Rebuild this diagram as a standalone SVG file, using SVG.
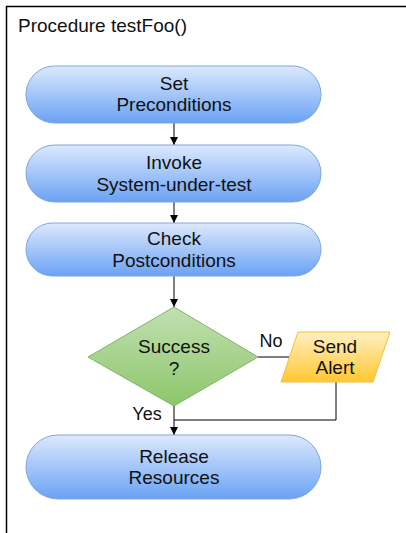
<svg xmlns="http://www.w3.org/2000/svg" width="406" height="533" viewBox="0 0 406 533">
<style>
text{font-family:"Liberation Sans",Arial,sans-serif;fill:#111;text-anchor:middle}
.t{font-size:19px}
.l{font-size:18px}
.term{fill:url(#gb);stroke:#7ea6e0;stroke-width:1}
.edge{fill:none;stroke:#000;stroke-width:1}
</style>
<defs>
<linearGradient id="gb" x1="0" y1="0" x2="0" y2="1"><stop offset="0" stop-color="#dde9fd"/><stop offset="1" stop-color="#6aa2f4"/></linearGradient>
<linearGradient id="gg" x1="0" y1="0" x2="0" y2="1"><stop offset="0" stop-color="#c2e0b2"/><stop offset="1" stop-color="#8cc66a"/></linearGradient>
<linearGradient id="gy" x1="0" y1="0" x2="0" y2="1"><stop offset="0" stop-color="#fff0c2"/><stop offset="1" stop-color="#ffc832"/></linearGradient>
<marker id="ah" markerWidth="8" markerHeight="8" refX="8" refY="4" orient="auto" markerUnits="userSpaceOnUse"><path d="M0,0 L8,4 L0,8 z" fill="#000"/></marker>
</defs>
<g id="frame"><path d="M6.5,533 V6.5 H406" fill="none" stroke="#000" stroke-width="1.5"/><text x="18" y="32" style="font-size:19px;text-anchor:start">Procedure testFoo()</text></g>
<g id="edges">
<path class="edge" d="M174,123 V145" marker-end="url(#ah)"/>
<path class="edge" d="M174,202 V223" marker-end="url(#ah)"/>
<path class="edge" d="M174,276 V307" marker-end="url(#ah)"/>
<path class="edge" d="M174,406 V435" marker-end="url(#ah)"/>
<path class="edge" d="M258,357 H289.5"/>
<path class="edge" d="M336,382 V420 H174"/>
<text class="l" x="271" y="347">No</text>
<text class="l" x="147" y="420">Yes</text>
</g>
<g id="set"><rect class="term" x="26" y="66" width="295" height="57" rx="28.5"/><text class="t" x="174" y="90">Set</text><text class="t" x="174" y="111">Preconditions</text></g>
<g id="invoke"><rect class="term" x="26" y="145" width="295" height="57" rx="28.5"/><text class="t" x="174" y="169">Invoke</text><text class="t" x="174" y="191">System-under-test</text></g>
<g id="check"><rect class="term" x="26" y="223" width="295" height="53" rx="26.5"/><text class="t" x="174" y="245">Check</text><text class="t" x="174" y="267">Postconditions</text></g>
<g id="success"><polygon points="174,307 258,357 174,406 88,357" fill="url(#gg)" stroke="#82b366" stroke-width="1"/><text class="t" x="174" y="353">Success</text><text class="t" x="174" y="375">?</text></g>
<g id="alert"><polygon points="298,332 390,332 373,382 281,382" fill="url(#gy)" stroke="#f2c040" stroke-width="1"/><text class="t" x="335" y="353">Send</text><text class="t" x="335" y="374">Alert</text></g>
<g id="release"><rect class="term" x="26" y="435" width="295" height="64" rx="32"/><text class="t" x="174" y="463">Release</text><text class="t" x="174" y="484">Resources</text></g>
</svg>
